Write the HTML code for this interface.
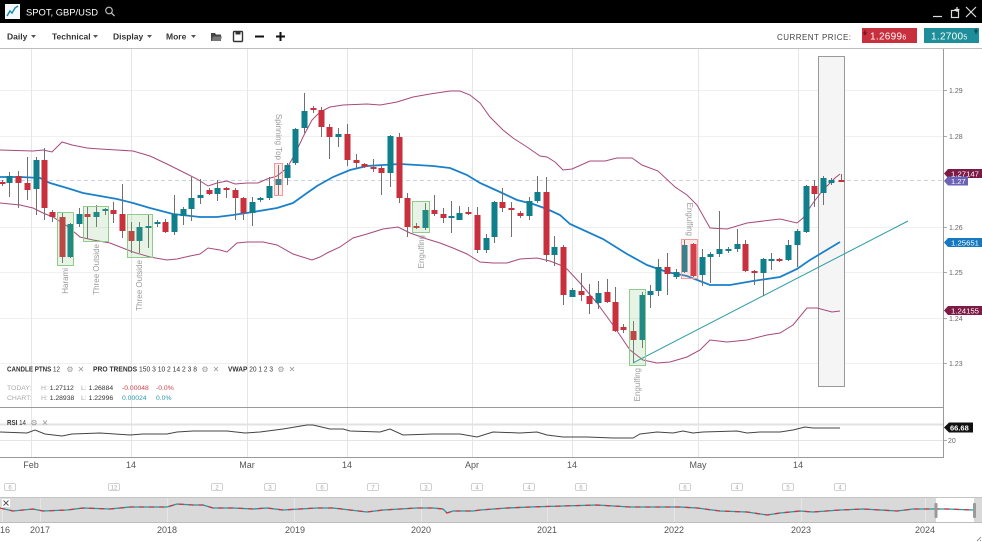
<!DOCTYPE html>
<html><head><meta charset="utf-8"><style>
html,body{margin:0;padding:0;background:#fff;}
svg{display:block;font-family:"Liberation Sans",sans-serif;}
.w{stroke:#707070;stroke-width:1;fill:none}
.r{fill:#c9303d}
.t{fill:#0f7f8b}
.g{stroke:#f0f0f0;stroke-width:1}
.v{stroke:#e6e6e6;stroke-width:1}
.ax{font-size:7px;fill:#666}
.pl{font-size:8px;fill:#9a9a9a}
.dl{font-size:9px;fill:#555}
.mk rect{fill:#fff;stroke:#c4c4c4;stroke-width:0.8}
.mk text{font-size:6px;fill:#aaa;text-anchor:middle}
</style></head><body>
<svg width="982" height="542" viewBox="0 0 982 542" xmlns="http://www.w3.org/2000/svg">
<!-- top bar -->
<rect x="0" y="0" width="982" height="23" fill="#000"/>
<rect x="5" y="4" width="15" height="15" fill="#f4f8fa"/>
<polyline points="7,16 10,11 12,13 15,8 18,6" fill="none" stroke="#1b8fb0" stroke-width="1.5"/>
<text x="26" y="15.5" font-size="9.5" fill="#fff" textLength="72" lengthAdjust="spacingAndGlyphs">SPOT, GBP/USD</text>
<circle cx="109" cy="10.5" r="3.3" fill="none" stroke="#bbb" stroke-width="1.2"/>
<line x1="111.5" y1="13" x2="114.5" y2="16" stroke="#bbb" stroke-width="1.3"/>
<line x1="933" y1="16.5" x2="942" y2="16.5" stroke="#ddd" stroke-width="1.2"/>
<rect x="951.5" y="10.5" width="7" height="7" fill="none" stroke="#ddd" stroke-width="1.2"/>
<path d="M957 7v5M954.5 9.5h5" stroke="#ddd" stroke-width="1.2"/>
<path d="M966 7l10 10M976 7l-10 10" stroke="#ddd" stroke-width="1.2"/>
<!-- toolbar -->
<rect x="0" y="23" width="982" height="25" fill="#fff"/>
<line x1="0" y1="48.5" x2="982" y2="48.5" stroke="#bdbdbd"/>
<g font-size="8.5" font-weight="bold" fill="#333">
<text x="7" y="39.5">Daily</text>
<text x="52" y="39.5">Technical</text>
<text x="113" y="39.5">Display</text>
<text x="166" y="39.5">More</text>
</g>
<g fill="#555">
<path d="M31 35h5l-2.5 3z"/><path d="M93 35h5l-2.5 3z"/><path d="M147 35h5l-2.5 3z"/><path d="M191 35h5l-2.5 3z"/>
</g>
<path d="M211 33h4l1 1.5h5v6.5h-10z" fill="#444"/>
<path d="M213 36.5h9l-1.5 4.5h-9z" fill="#777"/>
<rect x="233.5" y="31.5" width="9" height="10" rx="1" fill="none" stroke="#333" stroke-width="1.4"/>
<rect x="235.5" y="31.5" width="5" height="3" fill="#333"/>
<line x1="255" y1="36.5" x2="264" y2="36.5" stroke="#111" stroke-width="2"/>
<path d="M276 36.5h9M280.5 32v9" stroke="#111" stroke-width="2"/>
<text x="777" y="40" font-size="8" fill="#444" textLength="74" lengthAdjust="spacing">CURRENT PRICE:</text>
<rect x="862" y="28" width="55" height="15" fill="#c9303d"/>
<path d="M865 30v4M863.5 32.5l1.5 2l1.5-2" stroke="#7a1520" stroke-width="1.3" fill="none"/>
<text x="870" y="39.5" font-size="10" fill="#fff" letter-spacing="0.3">1.2699<tspan font-size="7">6</tspan></text>
<rect x="924" y="28" width="55" height="15" fill="#1e8f9a"/>
<path d="M976 34v-4M974.5 31.5l1.5-2l1.5 2" stroke="#0c4d55" stroke-width="1.3" fill="none"/>
<text x="931" y="39.5" font-size="10" fill="#fff" letter-spacing="0.3">1.2700<tspan font-size="7">5</tspan></text>

<!-- grid -->
<g class="g">
<line x1="0" y1="90.5" x2="943" y2="90.5"/><line x1="0" y1="136.5" x2="943" y2="136.5"/>
<line x1="0" y1="227.5" x2="943" y2="227.5"/><line x1="0" y1="272.5" x2="943" y2="272.5"/>
<line x1="0" y1="318.5" x2="943" y2="318.5"/><line x1="0" y1="363.5" x2="943" y2="363.5"/>
</g>
<g class="v">
<line x1="31.5" y1="49" x2="31.5" y2="457"/><line x1="131.5" y1="49" x2="131.5" y2="457"/>
<line x1="247.5" y1="49" x2="247.5" y2="457"/><line x1="347.5" y1="49" x2="347.5" y2="457"/>
<line x1="472.5" y1="49" x2="472.5" y2="457"/><line x1="572.5" y1="49" x2="572.5" y2="457"/>
<line x1="698.5" y1="49" x2="698.5" y2="457"/><line x1="798.5" y1="49" x2="798.5" y2="457"/>
</g>
<line x1="0" y1="180.5" x2="943" y2="180.5" stroke="#cfcfe6" stroke-dasharray="4,3"/>
<!-- highlight -->
<rect x="818.5" y="56.5" width="26" height="330" fill="#f5f5f5" stroke="#9a9a9a"/>

<!-- bands -->
<polyline fill="none" stroke="#a8497a" stroke-width="1" points="0,150 33,151 43,150 52,152 62,142 72,145 87,148 100,149 117,150 133,151 150,156 167,164 183,172 197,179 208,186 217,183 227,181 235,184 247,183 258,183 267,179 277,176 287,168 295,154 303,137 312,120 320,112 330,107 343,105 367,104 380,105 397,102 413,97 430,94 450,91 460,91 470,95 480,103 490,117 503,130 513,138 527,147 540,156 547,157 555,162 563,170 572,169 590,161 605,161 617,158 632,158 642,165 658,171 675,187 687,195 697,205 710,228 727,229 747,223 780,219 797,223 803,218 813,203 823,190 835,178 840,174"/>
<polyline fill="none" stroke="#a8497a" stroke-width="1" points="0,203 20,205 33,208 43,213 53,217 67,226 80,237 93,240 110,243 133,252 150,257 167,260 177,259 190,256 200,254 208,248 220,250 227,252 237,243 247,242 263,242 277,245 293,254 312,260 320,257 327,253 340,247 353,238 367,234 383,229 398,227 410,233 427,239 440,243 453,248 467,254 480,262 493,263 507,263 520,259 537,258 550,261 560,265 567,269 580,283 597,303 613,325 630,350 643,360 657,363 670,362 687,357 700,350 710,340 727,342 747,340 767,335 780,333 793,325 807,308 817,308 832,312 840,311"/>
<polyline fill="none" stroke="#1a80c9" stroke-width="1.8" points="0,177 20,177 40,178 50,183 67,188 83,193 117,199 133,203 150,208 173,214 200,217 217,217 233,215 253,212 277,208 293,203 300,198 307,193 317,186 333,177 350,170 367,166 383,165 400,164 417,165 433,166 450,168 467,175 480,183 500,192 517,200 533,204 547,209 560,215 570,224 603,239 627,254 647,265 667,272 687,276 710,285 730,285 753,281 780,277 797,269 810,260 820,254 830,248 840,242"/>
<line x1="633" y1="363" x2="908" y2="221" stroke="#2a9ca3" stroke-width="1"/>

<!-- wicks -->
<path class="w" d="M2.5 180V186M9.5 172V197M18.5 171V208M27.5 157V200M36.5 157V215M44.5 148V220M52.5 210V222M62.5 213V263M70.5 223V258M79.5 208V227M87.5 207V239M96.5 205V227M105.5 208V215M113.5 202V223M122.5 184V238M131.5 222V253M139.5 222V253M148.5 215V248M157.5 220V227M165.5 219V233M174.5 195V235M183.5 207V225M191.5 177V221M200.5 179V204M209.5 188V195M217.5 180V201M226.5 187V198M235.5 188V220M243.5 197V220M252.5 197V226M260.5 197V202M269.5 177V200M278.5 165V195M287.5 163V185M295.5 128V165M304.5 93V133M313.5 106V113M321.5 107V137M329.5 124V159M338.5 128V147M347.5 124V166M356.5 154V168M364.5 163V168M373.5 159V172M381.5 165V195M390.5 135V187M399.5 133V203M407.5 193V237M416.5 223V229M425.5 203V230M434.5 195V216M443.5 208V223M451.5 201V233M459.5 206V220M468.5 207V215M477.5 207V253M486.5 234V253M494.5 201V243M502.5 188V212M511.5 202V237M520.5 211V218M529.5 197V220M537.5 176V203M546.5 177V262M554.5 236V266M563.5 245V305M572.5 288V297M581.5 273V301M589.5 284V314M598.5 281V309M607.5 279V303M615.5 287V332M623.5 324V333M633.5 321V363M642.5 292V348M650.5 285V308M658.5 259V296M667.5 253V295M676.5 269V279M684.5 240V273M693.5 243V277M702.5 249V286M710.5 252V283M719.5 211V257M728.5 247V253M737.5 229V252M745.5 240V272M754.5 270V285M763.5 258V296M771.5 253V270M779.5 258V262M788.5 240V261M797.5 229V267M806.5 185V233M814.5 180V207M823.5 176V205M831.5 178V185M841.5 174V182"/>
<!-- bodies -->
<g class="r">
<rect x="-0.5" y="182" width="6" height="2"/><rect x="15.5" y="176" width="6" height="7"/><rect x="24.5" y="183" width="6" height="7"/><rect x="41.5" y="160" width="6" height="48"/><rect x="49.5" y="212" width="6" height="5"/><rect x="59.5" y="217" width="6" height="40"/><rect x="84.5" y="214" width="6" height="3"/><rect x="110.5" y="210" width="6" height="4"/><rect x="119.5" y="214" width="6" height="17"/><rect x="128.5" y="231" width="6" height="10"/><rect x="162.5" y="222" width="6" height="10"/><rect x="206.5" y="190" width="6" height="4"/><rect x="223.5" y="188" width="6" height="2"/><rect x="232.5" y="190" width="6" height="8"/><rect x="240.5" y="198" width="6" height="15"/><rect x="310.5" y="108" width="6" height="2"/><rect x="318.5" y="110" width="6" height="17"/><rect x="326.5" y="127" width="6" height="10"/><rect x="344.5" y="134" width="6" height="26"/><rect x="353.5" y="160" width="6" height="3"/><rect x="361.5" y="164" width="6" height="3"/><rect x="370.5" y="167" width="6" height="2"/><rect x="378.5" y="168" width="6" height="5"/><rect x="396.5" y="137" width="6" height="61"/><rect x="404.5" y="198" width="6" height="29"/><rect x="413.5" y="226" width="6" height="2"/><rect x="431.5" y="210" width="6" height="4"/><rect x="440.5" y="214" width="6" height="4"/><rect x="465.5" y="212" width="6" height="2"/><rect x="474.5" y="215" width="6" height="35"/><rect x="499.5" y="202" width="6" height="6"/><rect x="508.5" y="208" width="6" height="2"/><rect x="517.5" y="213" width="6" height="3"/><rect x="543.5" y="192" width="6" height="63"/><rect x="560.5" y="247" width="6" height="48"/><rect x="578.5" y="291" width="6" height="4"/><rect x="586.5" y="296" width="6" height="8"/><rect x="604.5" y="292" width="6" height="10"/><rect x="612.5" y="302" width="6" height="29"/><rect x="620.5" y="327" width="6" height="3"/><rect x="630.5" y="331" width="6" height="9"/><rect x="664.5" y="267" width="6" height="7"/><rect x="690.5" y="244" width="6" height="32"/><rect x="742.5" y="244" width="6" height="27"/><rect x="751.5" y="271" width="6" height="2"/><rect x="776.5" y="259" width="6" height="2"/><rect x="811.5" y="186" width="6" height="8"/><rect x="838.5" y="180" width="6" height="2"/>
</g>
<g class="t">
<rect x="6.5" y="176" width="6" height="7"/><rect x="33.5" y="160" width="6" height="29"/><rect x="67.5" y="224" width="6" height="33"/><rect x="76.5" y="214" width="6" height="10"/><rect x="93.5" y="212" width="6" height="5"/><rect x="102.5" y="209" width="6" height="2"/><rect x="136.5" y="227" width="6" height="14"/><rect x="145.5" y="226" width="6" height="2"/><rect x="154.5" y="222" width="6" height="2"/><rect x="171.5" y="214" width="6" height="18"/><rect x="180.5" y="209" width="6" height="7"/><rect x="188.5" y="198" width="6" height="11"/><rect x="197.5" y="195" width="6" height="3"/><rect x="214.5" y="188" width="6" height="6"/><rect x="249.5" y="202" width="6" height="11"/><rect x="257.5" y="198" width="6" height="2"/><rect x="266.5" y="186" width="6" height="12"/><rect x="275.5" y="179" width="6" height="6"/><rect x="284.5" y="165" width="6" height="13"/><rect x="292.5" y="129" width="6" height="34"/><rect x="301.5" y="111" width="6" height="17"/><rect x="335.5" y="134" width="6" height="3"/><rect x="387.5" y="136" width="6" height="37"/><rect x="422.5" y="210" width="6" height="18"/><rect x="448.5" y="216" width="6" height="2"/><rect x="456.5" y="213" width="6" height="7"/><rect x="483.5" y="238" width="6" height="12"/><rect x="491.5" y="202" width="6" height="35"/><rect x="526.5" y="201" width="6" height="15"/><rect x="534.5" y="192" width="6" height="9"/><rect x="551.5" y="247" width="6" height="8"/><rect x="569.5" y="290" width="6" height="7"/><rect x="595.5" y="293" width="6" height="10"/><rect x="639.5" y="295" width="6" height="45"/><rect x="647.5" y="291" width="6" height="4"/><rect x="655.5" y="267" width="6" height="24"/><rect x="673.5" y="272" width="6" height="5"/><rect x="681.5" y="245" width="6" height="27"/><rect x="699.5" y="257" width="6" height="18"/><rect x="707.5" y="254" width="6" height="3"/><rect x="716.5" y="249" width="6" height="5"/><rect x="725.5" y="249" width="6" height="2"/><rect x="734.5" y="244" width="6" height="5"/><rect x="760.5" y="259" width="6" height="14"/><rect x="768.5" y="259" width="6" height="2"/><rect x="785.5" y="245" width="6" height="15"/><rect x="794.5" y="231" width="6" height="14"/><rect x="803.5" y="186" width="6" height="46"/><rect x="820.5" y="178" width="6" height="15"/><rect x="828.5" y="180" width="6" height="3"/>
</g>

<!-- pattern boxes -->
<g fill="rgba(120,190,110,0.18)" stroke="#8fcb8a" stroke-width="1">
<rect x="57.5" y="212.5" width="16" height="53"/>
<rect x="83.5" y="206.5" width="25" height="35"/>
<rect x="127.5" y="214.5" width="25" height="43"/>
<rect x="412.5" y="201.5" width="17" height="31"/>
<rect x="629.5" y="289.5" width="16" height="76"/>
</g>
<g fill="rgba(255,140,140,0.18)" stroke="#f19c9c" stroke-width="1">
<rect x="274.5" y="163.5" width="8" height="32"/>
<rect x="681.5" y="239.5" width="16" height="39"/>
</g>
<g class="pl">
<text transform="translate(68,268) rotate(-90)" text-anchor="end">Harami</text>
<text transform="translate(99,244) rotate(-90)" text-anchor="end">Three Outside</text>
<text transform="translate(142,260) rotate(-90)" text-anchor="end">Three Outside</text>
<text transform="translate(424,235) rotate(-90)" text-anchor="end">Engulfing</text>
<text transform="translate(640,368) rotate(-90)" text-anchor="end">Engulfing</text>
<text transform="translate(276,160) rotate(90)" text-anchor="end">Spinning Top</text>
<text transform="translate(687,236) rotate(90)" text-anchor="end">Engulfing</text>
</g>

<!-- right axis -->
<line x1="943.5" y1="49" x2="943.5" y2="407" stroke="#9a9a9a"/>
<g stroke="#aaa"><line x1="944" y1="90.5" x2="947" y2="90.5"/><line x1="944" y1="136.5" x2="947" y2="136.5"/><line x1="944" y1="227.5" x2="947" y2="227.5"/><line x1="944" y1="272.5" x2="947" y2="272.5"/><line x1="944" y1="318.5" x2="947" y2="318.5"/><line x1="944" y1="363.5" x2="947" y2="363.5"/></g>
<g class="ax">
<text x="949" y="93">1.29</text><text x="949" y="139">1.28</text><text x="949" y="230">1.26</text><text x="949" y="275">1.25</text><text x="949" y="321">1.24</text><text x="949" y="366">1.23</text>
</g>
<path d="M944 173.5l4-4.5h34v9h-34z" fill="#7d1b47"/>
<text x="951" y="176.3" font-size="7.5" fill="#fff" textLength="28" lengthAdjust="spacingAndGlyphs">1.27147</text>
<path d="M944 181l4-4.5h20v9h-20z" fill="#6a63b6"/>
<text x="951" y="184" font-size="7.5" fill="#fff">1.27</text>
<path d="M944 242.5l4-4.5h34v9h-34z" fill="#1679c0"/>
<text x="951" y="245.3" font-size="7.5" fill="#fff" textLength="28" lengthAdjust="spacingAndGlyphs">1.25651</text>
<path d="M944 310.5l4-4.5h34v9h-34z" fill="#7d1b47"/>
<text x="951" y="313.3" font-size="7.5" fill="#fff" textLength="28" lengthAdjust="spacingAndGlyphs">1.24155</text>

<!-- legends -->
<g font-size="7" fill="#333">
<text x="7" y="371.5" textLength="53" lengthAdjust="spacingAndGlyphs"><tspan font-weight="bold">CANDLE PTNS</tspan> 12</text>
<text x="93" y="371.5" textLength="104" lengthAdjust="spacingAndGlyphs"><tspan font-weight="bold">PRO TRENDS</tspan> 150 3 10 2 14 2 3 8</text>
<text x="228" y="371.5" textLength="45" lengthAdjust="spacingAndGlyphs"><tspan font-weight="bold">VWAP</tspan> 20 1 2 3</text>
</g>
<g font-size="8" fill="#999" text-anchor="middle">
<text x="70" y="372">⚙</text><text x="81" y="372">✕</text>
<text x="205" y="372">⚙</text><text x="216" y="372">✕</text>
<text x="281" y="372">⚙</text><text x="292" y="372">✕</text>
</g>
<g font-size="6.8" fill="#aaa">
<text x="7" y="390">TODAY:</text><text x="7" y="400">CHART:</text>
<text x="41" y="390">H: <tspan fill="#333">1.27112</tspan></text>
<text x="81" y="390">L: <tspan fill="#333">1.26884</tspan></text>
<text x="122" y="390" fill="#d0404a">-0.00048</text>
<text x="156" y="390" fill="#d0404a">-0.0%</text>
<text x="41" y="400">H: <tspan fill="#333">1.28938</tspan></text>
<text x="81" y="400">L: <tspan fill="#333">1.22996</tspan></text>
<text x="122" y="400" fill="#2a98a6">0.00024</text>
<text x="156" y="400" fill="#2a98a6">0.0%</text>
</g>

<!-- RSI panel -->
<line x1="0" y1="407.5" x2="943" y2="407.5" stroke="#9a9a9a"/>
<line x1="0" y1="424.5" x2="943" y2="424.5" stroke="#e2e2e2" stroke-width="2"/>
<line x1="0" y1="440.5" x2="943" y2="440.5" stroke="#e4e4e4"/>
<line x1="0" y1="457.5" x2="943" y2="457.5" stroke="#9a9a9a"/>
<line x1="943.5" y1="407" x2="943.5" y2="458" stroke="#9a9a9a"/>
<text x="7" y="425" font-size="7" fill="#333" textLength="19" lengthAdjust="spacingAndGlyphs"><tspan font-weight="bold">RSI</tspan> 14</text>
<g font-size="8" fill="#999" text-anchor="middle"><text x="34" y="425.5">⚙</text><text x="45" y="425.5">✕</text></g>
<polyline fill="none" stroke="#444" stroke-width="1" points="0,432 27,433 35,430 45,434 62,436 72,434 100,433 130,435 143,434 167,434 177,432 193,431 227,431 245,433 260,432 283,429 307,425 313,425 330,429 343,429 350,431 380,432 390,429 403,435 433,434 460,434 477,437 493,432 520,433 537,432 547,435 563,437 587,437 613,438 633,438 640,434 657,432 673,433 683,431 693,433 703,432 737,431 747,433 760,432 780,432 793,430 805,427 813,428 823,428 840,428"/>
<path d="M944 427.5l5-5h24v10h-24z" fill="#111"/>
<text x="950" y="430.5" font-size="7.5" font-weight="bold" fill="#fff">66.68</text>
<line x1="944" y1="440.5" x2="947" y2="440.5" stroke="#aaa"/>
<text x="948" y="443" class="ax">20</text>

<!-- date labels -->
<g class="dl" text-anchor="middle">
<text x="31" y="468">Feb</text><text x="131" y="468">14</text><text x="247" y="468">Mar</text><text x="347" y="468">14</text>
<text x="472" y="468">Apr</text><text x="572" y="468">14</text><text x="698" y="468">May</text><text x="798" y="468">14</text>
</g>
<!-- markers -->
<g class="mk">
<rect x="4.5" y="483.5" width="11" height="7" rx="1.5"/><text x="10" y="489.3">6</text>
<rect x="108.5" y="483.5" width="11" height="7" rx="1.5"/><text x="114" y="489.3">12</text>
<rect x="211.5" y="483.5" width="11" height="7" rx="1.5"/><text x="217" y="489.3">2</text>
<rect x="264.5" y="483.5" width="11" height="7" rx="1.5"/><text x="270" y="489.3">3</text>
<rect x="316.5" y="483.5" width="11" height="7" rx="1.5"/><text x="322" y="489.3">6</text>
<rect x="367.5" y="483.5" width="11" height="7" rx="1.5"/><text x="373" y="489.3">7</text>
<rect x="420.5" y="483.5" width="11" height="7" rx="1.5"/><text x="426" y="489.3">3</text>
<rect x="471.5" y="483.5" width="11" height="7" rx="1.5"/><text x="477" y="489.3">4</text>
<rect x="523.5" y="483.5" width="11" height="7" rx="1.5"/><text x="529" y="489.3">4</text>
<rect x="575.5" y="483.5" width="11" height="7" rx="1.5"/><text x="581" y="489.3">6</text>
<rect x="679.5" y="483.5" width="11" height="7" rx="1.5"/><text x="685" y="489.3">6</text>
<rect x="731.5" y="483.5" width="11" height="7" rx="1.5"/><text x="737" y="489.3">4</text>
<rect x="782.5" y="483.5" width="11" height="7" rx="1.5"/><text x="788" y="489.3">5</text>
<rect x="834.5" y="483.5" width="11" height="7" rx="1.5"/><text x="840" y="489.3">4</text>
</g>

<!-- navigator -->
<rect x="0" y="497" width="982" height="26" fill="#d9d9d9"/>
<rect x="936" y="497" width="38" height="26" fill="#fff"/>
<line x1="0" y1="497.5" x2="982" y2="497.5" stroke="#c4c4c4"/>
<line x1="0" y1="522.5" x2="982" y2="522.5" stroke="#bdbdbd"/>
<g stroke="#e6e6e6"><line x1="2.5" y1="498" x2="2.5" y2="522"/><line x1="40.5" y1="498" x2="40.5" y2="522"/><line x1="167.5" y1="498" x2="167.5" y2="522"/><line x1="294.5" y1="498" x2="294.5" y2="522"/><line x1="421.5" y1="498" x2="421.5" y2="522"/><line x1="547.5" y1="498" x2="547.5" y2="522"/><line x1="674.5" y1="498" x2="674.5" y2="522"/><line x1="801.5" y1="498" x2="801.5" y2="522"/><line x1="925.5" y1="498" x2="925.5" y2="522"/></g>
<polyline fill="none" stroke="#1f9aa6" stroke-width="1.3" points="0,508 13,511 33,509 43,511 67,510 83,508 110,509 130,507 150,507 167,507 177,504 193,505 203,505 213,508 233,508 253,509 267,508 283,510 300,509 317,508 333,508 350,510 367,512 383,510 400,509 417,508 433,508 443,509 447,513 453,511 473,511 480,510 507,508 530,507 563,506 597,505 630,507 680,507 697,508 720,511 747,512 767,515 780,513 800,511 813,512 840,510 863,509 897,511 913,509 936,509 947,509 973,510"/>
<polyline fill="none" stroke="#d2343f" stroke-width="1.3" stroke-dasharray="5,5" points="0,508 13,511 33,509 43,511 67,510 83,508 110,509 130,507 150,507 167,507 177,504 193,505 203,505 213,508 233,508 253,509 267,508 283,510 300,509 317,508 333,508 350,510 367,512 383,510 400,509 417,508 433,508 443,509 447,513 453,511 473,511 480,510 507,508 530,507 563,506 597,505 630,507 680,507 697,508 720,511 747,512 767,515 780,513 800,511 813,512 840,510 863,509 897,511 913,509 936,509 947,509 973,510"/>
<rect x="934.5" y="503" width="3" height="15" rx="1" fill="#9a9a9a"/>
<rect x="973" y="503" width="3" height="15" rx="1" fill="#9a9a9a"/>
<rect x="1.5" y="498.5" width="9" height="9" fill="#fff" stroke="#ddd"/>
<path d="M3.5 500.5l5 5M8.5 500.5l-5 5" stroke="#555" stroke-width="1"/>
<g class="dl" text-anchor="middle">
<text x="5" y="533">16</text><text x="40" y="533">2017</text><text x="167" y="533">2018</text><text x="295" y="533">2019</text>
<text x="421" y="533">2020</text><text x="547" y="533">2021</text><text x="674" y="533">2022</text><text x="801" y="533">2023</text><text x="925" y="533">2024</text>
</g>
<path d="M977 541l4-4M980 541l1-1" stroke="#777" stroke-width="0.8"/>
</svg>
</body></html>
